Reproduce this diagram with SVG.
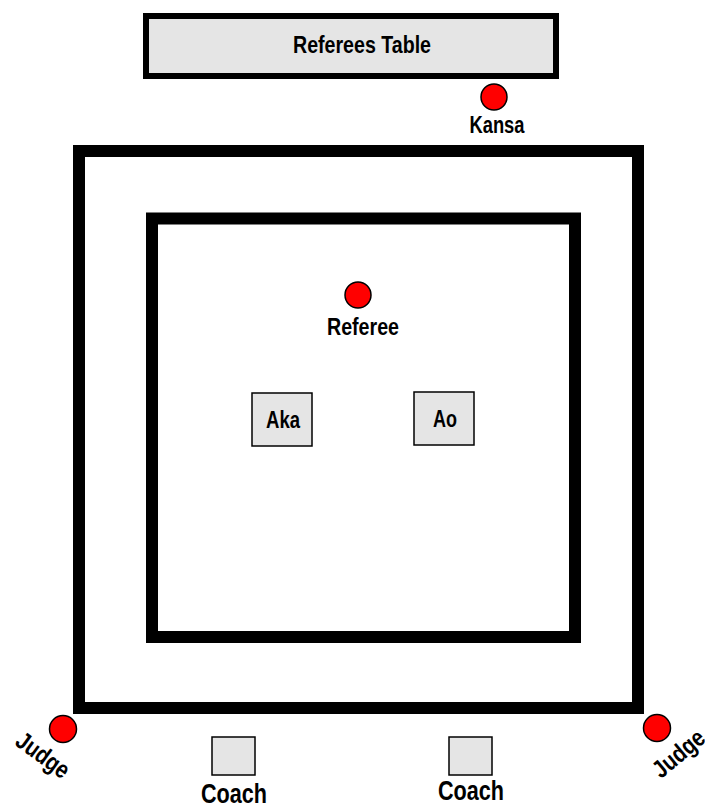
<svg xmlns="http://www.w3.org/2000/svg" width="705" height="803" viewBox="0 0 705 803">
<style>
.lbl{font-family:"Liberation Sans",Arial,sans-serif;font-weight:bold;fill:#000;text-anchor:middle}
.person{fill:#ff0000;stroke:#000;stroke-width:1.5}
.box{fill:#e5e5e5;stroke:#000;stroke-width:1.5}
.wall{fill:none;stroke:#000;stroke-width:12}
</style>
<rect width="705" height="803" fill="#fff"/>
<g id="table">
<rect x="146" y="16" width="410" height="60" fill="#e5e5e5" stroke="#000" stroke-width="6"/>
<text class="lbl" x="362" y="53" font-size="24" textLength="138" lengthAdjust="spacingAndGlyphs">Referees Table</text>
</g>
<g id="outer-area"><rect class="wall" x="79" y="151" width="559" height="557"/></g>
<g id="inner-area"><rect class="wall" x="152" y="218.5" width="423" height="418.5"/></g>
<g id="kansa">
<circle class="person" cx="494" cy="97" r="13"/>
<text class="lbl" x="497" y="133" font-size="23" textLength="55" lengthAdjust="spacingAndGlyphs">Kansa</text>
</g>
<g id="referee">
<circle class="person" cx="358" cy="295" r="13"/>
<text class="lbl" x="363" y="335" font-size="23" textLength="72" lengthAdjust="spacingAndGlyphs">Referee</text>
</g>
<g id="aka">
<rect class="box" x="252" y="393" width="60" height="53"/>
<text class="lbl" x="283" y="428" font-size="23" textLength="34" lengthAdjust="spacingAndGlyphs">Aka</text>
</g>
<g id="ao">
<rect class="box" x="414" y="392" width="60" height="53"/>
<text class="lbl" x="445" y="427" font-size="23" textLength="24" lengthAdjust="spacingAndGlyphs">Ao</text>
</g>
<g id="coach1">
<rect class="box" x="212" y="737" width="43" height="38"/>
<text class="lbl" x="234" y="803" font-size="28" textLength="66" lengthAdjust="spacingAndGlyphs">Coach</text>
</g>
<g id="coach2">
<rect class="box" x="449" y="737" width="43" height="38"/>
<text class="lbl" x="471" y="800" font-size="28" textLength="66" lengthAdjust="spacingAndGlyphs">Coach</text>
</g>
<g id="judge-left">
<circle class="person" cx="63" cy="729" r="13.5"/>
<text class="lbl" x="0" y="0" font-size="25" textLength="60" lengthAdjust="spacingAndGlyphs" transform="translate(38,762) rotate(36)">Judge</text>
</g>
<g id="judge-right">
<circle class="person" cx="657" cy="728" r="13.5"/>
<text class="lbl" x="0" y="0" font-size="25" textLength="60" lengthAdjust="spacingAndGlyphs" transform="translate(684,760) rotate(-40)">Judge</text>
</g>
<g id="connectors"></g>
</svg>
